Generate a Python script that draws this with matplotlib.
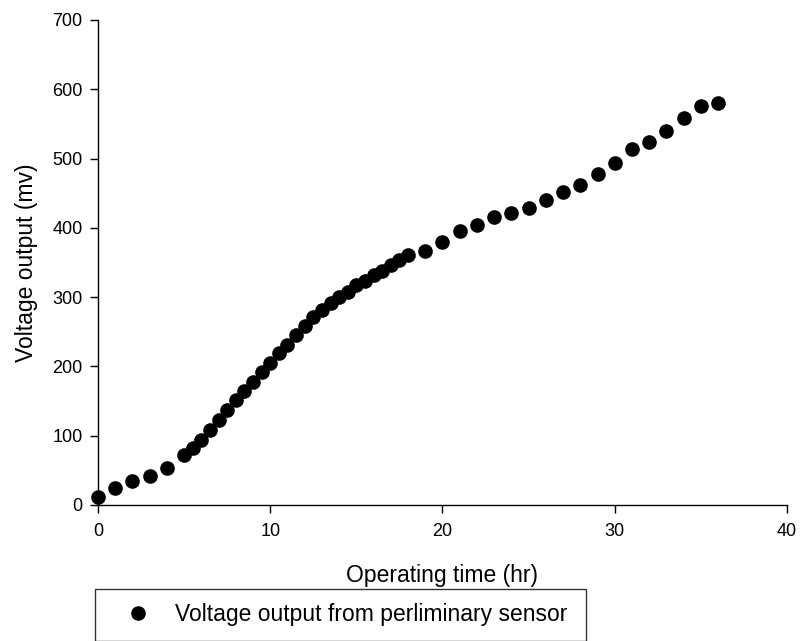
"""Voltage output of the preliminary sensor over operating time."""

import matplotlib.pyplot as plt

plt.rcParams["font.family"] = ["Liberation Sans", "DejaVu Sans"]

# Sampling times (hr) and measured voltage (mV)
time_hr = [0, 1, 2, 3, 4, 5, 5.5, 6, 6.5, 7, 7.5, 8, 8.5, 9, 9.5, 10,
           10.5, 11, 11.5, 12, 12.5, 13, 13.5, 14, 14.5, 15, 15.5, 16,
           16.5, 17, 17.5, 18, 19, 20, 21, 22, 23, 24, 25, 26, 27, 28,
           29, 30, 31, 32, 33, 34, 35, 36]
voltage_mv = [12, 25, 34, 42, 54, 72, 82, 94, 108, 122, 137, 152, 165,
              178, 192, 205, 219, 231, 246, 259, 271, 282, 292, 300, 308,
              317, 323, 332, 338, 346, 353, 361, 366, 379, 395, 404, 415,
              421, 429, 440, 452, 462, 478, 494, 514, 524, 540, 559, 576,
              580]

x_ticks = [0, 10, 20, 30, 40]
y_ticks = [0, 100, 200, 300, 400, 500, 600, 700]

fig = plt.figure(figsize=(8, 6.41), dpi=100)
ax = fig.add_axes([0.1225, 0.2122, 0.86125, 0.7566])

ax.plot(time_hr, voltage_mv, "o", color="black", markersize=9.5,
        label="Voltage output from perliminary sensor", clip_on=False)

ax.set_xlim(0, 40)
ax.set_ylim(0, 700)
ax.set_xticks(x_ticks)
ax.set_yticks(y_ticks)
ax.tick_params(direction="out", length=6, width=1, labelsize=13, pad=5)
ax.tick_params(axis="x", pad=7)

for side in ("top", "right"):
    ax.spines[side].set_visible(False)
for side in ("left", "bottom"):
    ax.spines[side].set_linewidth(1)

ax.set_xlabel("Operating time (hr)", fontsize=16.5, labelpad=17)
ax.set_ylabel("Voltage output (mv)", fontsize=16.5, labelpad=10)

leg = fig.legend(loc="upper left", bbox_to_anchor=(95 / 800, 1 - 589 / 641, 491 / 800, 0),
                 mode="expand", fontsize=16.5, frameon=True, fancybox=False,
                 borderpad=0.63, handlelength=2.48, handletextpad=0.37, borderaxespad=0)
leg.get_frame().set_edgecolor("black")
leg.get_frame().set_linewidth(1)

fig.savefig("out.png", dpi=100)
